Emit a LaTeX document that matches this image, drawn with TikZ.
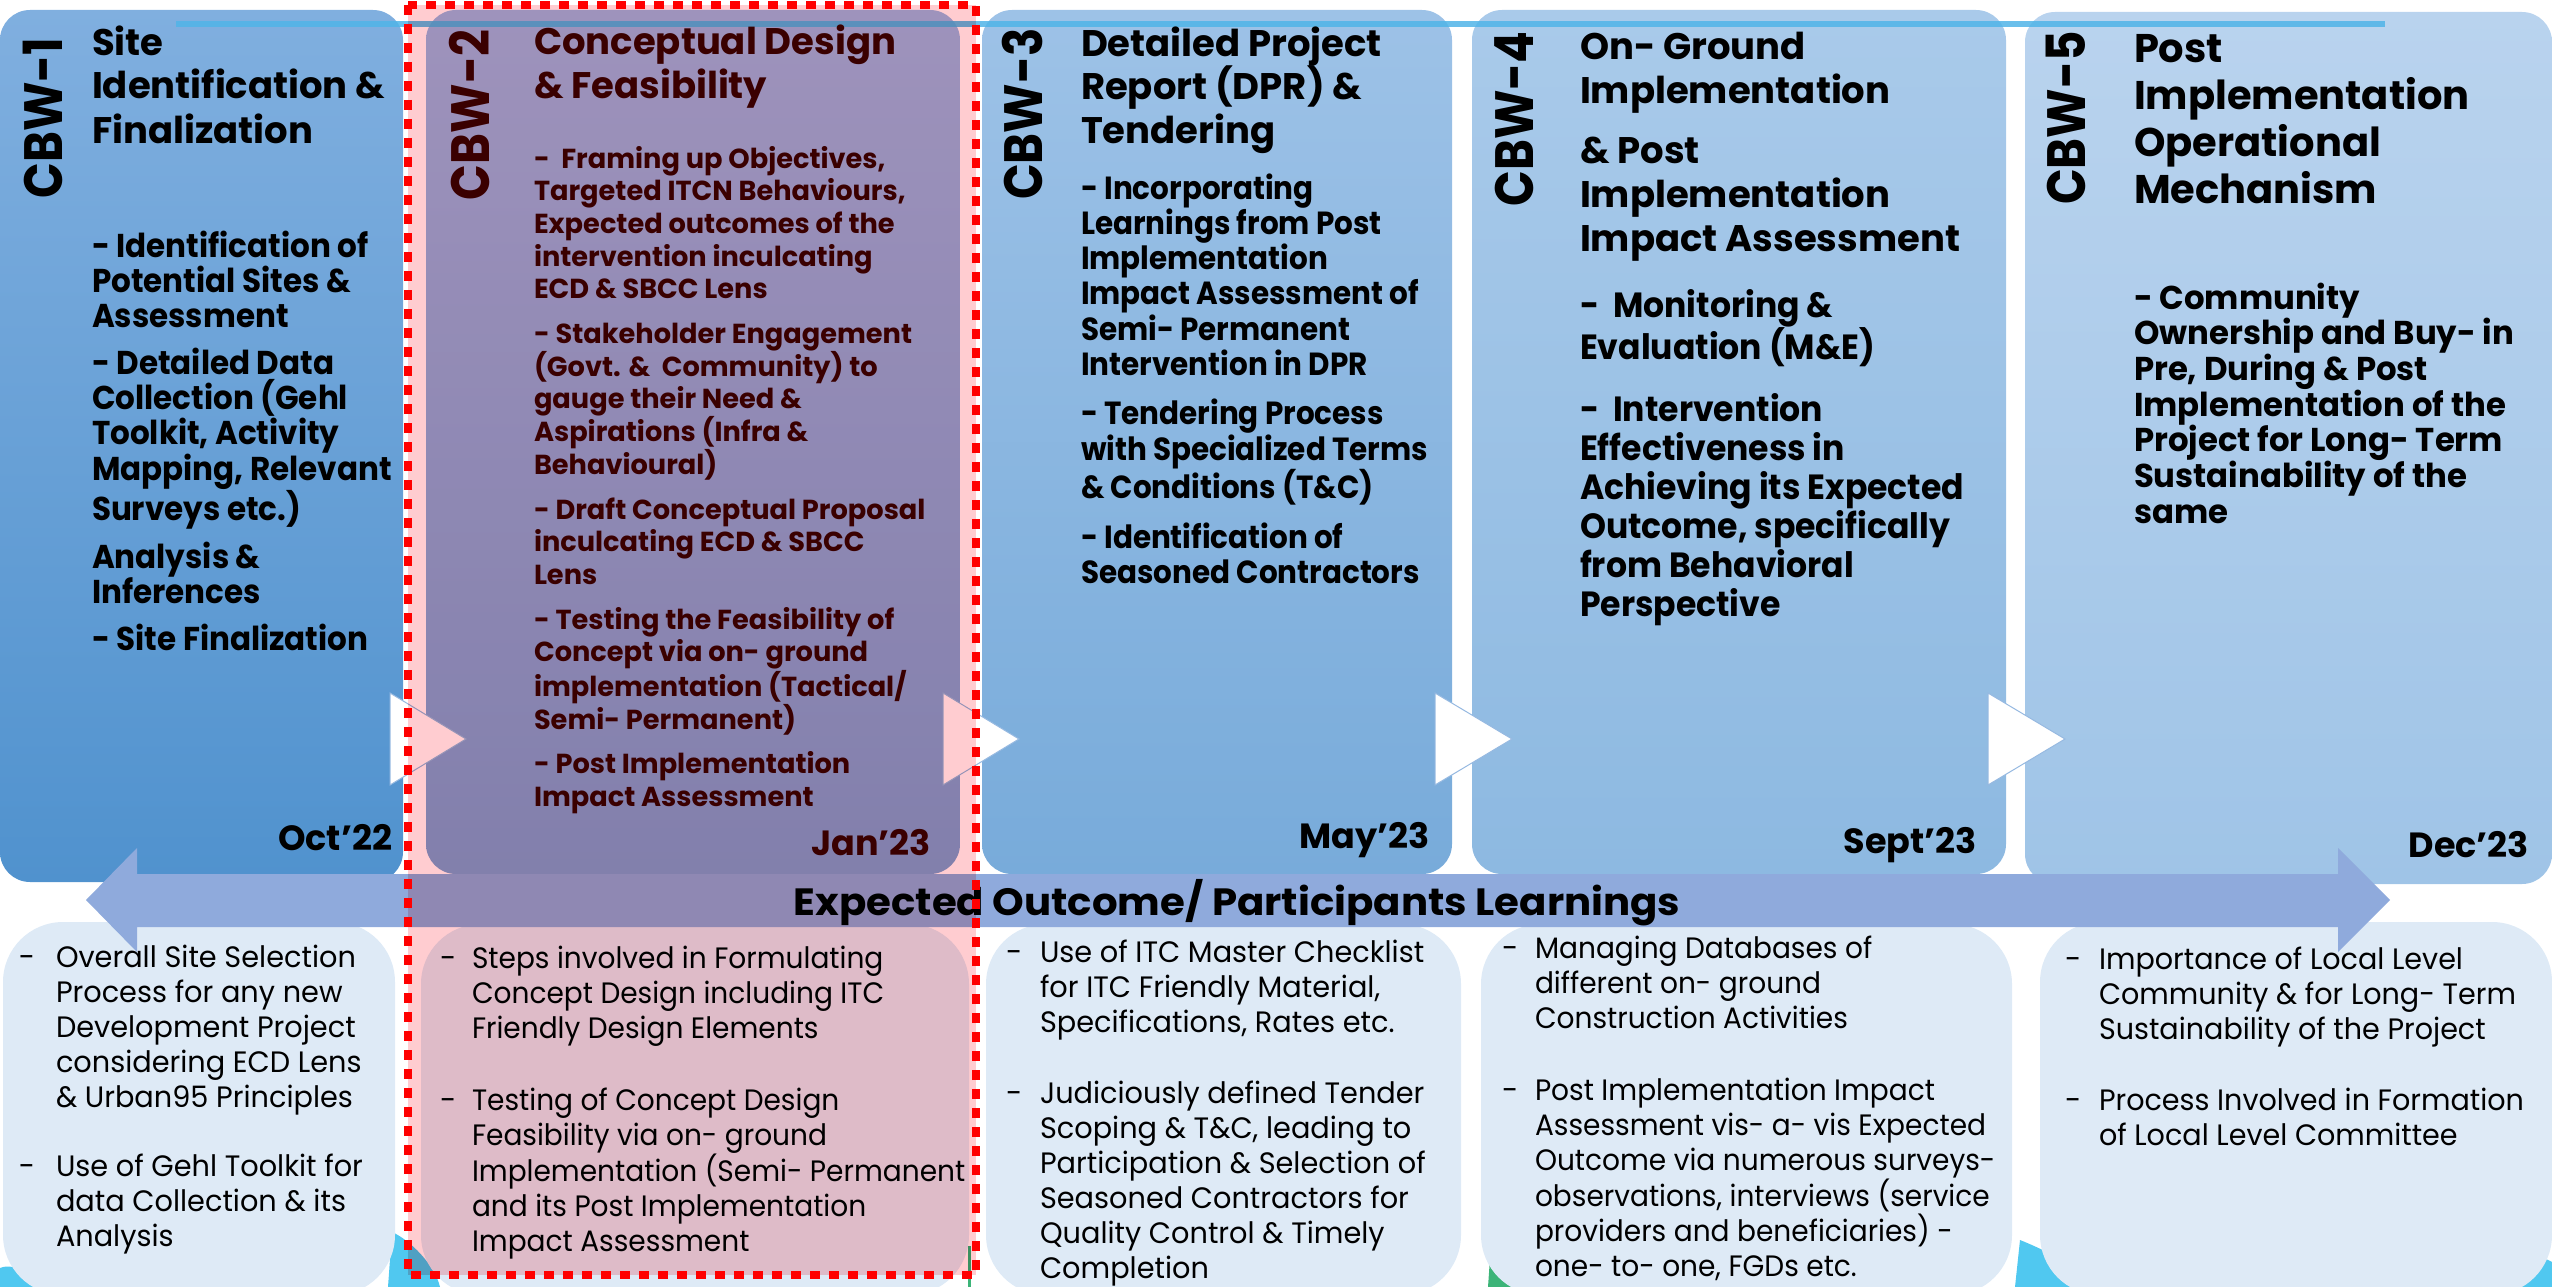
\documentclass[tikz,border=0pt]{standalone}
\usepackage{fontspec}
\setmainfont{Poppins}
\newcommand{\fsz}[2]{\fontsize{#1pt}{#2pt}\selectfont}
\newcommand{\fstrut}{\rule{0pt}{1em}}
\newcommand{\narrow}[1]{\addfontfeatures{FakeStretch=#1}}
\definecolor{bAt}{RGB}{128,175,223}
\definecolor{bAb}{RGB}{80,146,206}
\definecolor{bBt}{RGB}{158,184,231}
\definecolor{bBb}{RGB}{130,160,212}
\definecolor{bCt}{RGB}{157,194,231}
\definecolor{bCb}{RGB}{120,171,218}
\definecolor{bDt}{RGB}{169,202,234}
\definecolor{bDb}{RGB}{141,185,225}
\definecolor{bEt}{RGB}{185,211,238}
\definecolor{bEb}{RGB}{159,196,231}
\definecolor{lowbox}{RGB}{222,234,246}
\definecolor{arrowc}{RGB}{143,170,220}
\definecolor{topline}{RGB}{80,180,232}
\definecolor{pinkov}{RGB}{255,204,208}
\definecolor{maroon}{RGB}{58,0,0}
\definecolor{cyanblob}{RGB}{80,200,240}
\definecolor{greenblob}{RGB}{60,180,120}
\definecolor{triedge}{RGB}{150,185,225}
\tikzset{
  txt/.style={inner sep=0pt, outer sep=0pt, anchor=north west, align=left},
  ttl/.style={txt, font=\bfseries\fsz{37}{44}},
  cbw/.style={inner sep=0pt, outer sep=0pt, rotate=90, anchor=center, font=\bfseries\fsz{54}{60}\narrow{0.87}},
  datelbl/.style={inner sep=0pt, outer sep=0pt, anchor=base east, font=\bfseries\fsz{35}{40}},
  lowtxt/.style={txt, font=\fsz{29.5}{35}\narrow{#1}},
  dashlbl/.style={inner sep=0pt, outer sep=0pt, anchor=base west, font=\fsz{29.5}{35}},
  tri/.style={fill=white, draw=triedge, line width=1pt},
}
\begin{document}
\begin{tikzpicture}[x=1pt,y=-1pt]
\useasboundingbox (0,0) rectangle (2552,1287);
% background decoration blobs
\fill[cyanblob] (0,1287) -- (0,1268) .. controls (15,1262) and (30,1275) .. (34,1287) -- cycle;
\fill[cyanblob] (388,1287) -- (392,1232) .. controls (410,1240) and (435,1265) .. (440,1287) -- cycle;
\draw[greenblob, line width=3pt] (969,1246) -- (969,1287);
\fill[cyanblob] (1385,1287) -- (1392,1272) .. controls (1405,1276) and (1414,1282) .. (1418,1287) -- cycle;
\fill[greenblob] (1488,1287) -- (1490,1258) .. controls (1505,1265) and (1522,1276) .. (1530,1287) -- cycle;
\fill[cyanblob] (2015,1287) -- (2020,1240) .. controls (2045,1250) and (2085,1270) .. (2100,1287) -- cycle;
\fill[cyanblob] (2515,1287) -- (2535,1255) .. controls (2545,1258) and (2552,1262) .. (2552,1262) -- (2552,1287) -- cycle;
% top boxes
\shade[top color=bAt, bottom color=bAb, rounded corners=30pt] (0,10) rectangle (403,882);
\shade[top color=bBt, bottom color=bBb, rounded corners=30pt] (426,10) rectangle (960,874);
\shade[top color=bCt, bottom color=bCb, rounded corners=30pt] (982,10) rectangle (1452,874);
\shade[top color=bDt, bottom color=bDb, rounded corners=30pt] (1472,10) rectangle (2006,874);
\shade[top color=bEt, bottom color=bEb, rounded corners=30pt] (2025,12) rectangle (2552,884);
% top line
\fill[topline, opacity=0.85] (176,21) rectangle (2385,27);
% chevrons
\draw[tri] (390,693) -- (466,739) -- (390,785) -- cycle;
\draw[tri] (943,693) -- (1019,739) -- (943,785) -- cycle;
\draw[tri] (1435,693) -- (1512,739) -- (1435,785) -- cycle;
\draw[tri] (1988,693) -- (2065,739) -- (1988,785) -- cycle;
% lower boxes
\fill[lowbox, rounded corners=60pt] (3,922) rectangle (395,1295);
\fill[lowbox, rounded corners=60pt] (421,924) rectangle (969,1295);
\fill[lowbox, rounded corners=60pt] (986,924) rectangle (1461,1295);
\fill[lowbox, rounded corners=60pt] (1481,924) rectangle (2012,1295);
\fill[lowbox, rounded corners=60pt] (2040,922) rectangle (2552,1295);
% double arrow
\fill[arrowc] (86,900) -- (137,848) -- (137,874) -- (2338,874) -- (2338,848) -- (2390,900)
  -- (2338,952) -- (2338,927) -- (137,927) -- (137,952) -- cycle;
% pink overlay
\begin{scope}[blend mode=multiply]
\fill[pinkov] (408,5) rectangle (976,1275);
\end{scope}
% arrow text
\node[inner sep=0pt, anchor=base, font=\bfseries\fsz{38}{44}\narrow{1.06}] (arrowtxt) at (1237,915) {Expected Outcome/ Participants Learnings};
% CBW labels
\node[cbw] (cbw1) at (43,118) {CBW-1};
\node[cbw, text=maroon] (cbw2) at (469,115) {CBW-2};
\node[cbw] (cbw3) at (1022,114) {CBW-3};
\node[cbw] (cbw4) at (1514,119) {CBW-4};
\node[cbw] (cbw5) at (2066,118) {CBW-5};
% titles
\node[ttl] (t1) at (92,18) {\fstrut Site\\Identification \&\\Finalization};
\node[ttl, text=maroon] (t2) at (534,18) {\fstrut Conceptual Design\\\& Feasibility};
\node[ttl] (t3) at (1081,19) {\fstrut Detailed Project\\Report (DPR) \&\\Tendering};
\node[ttl] (t4) at (1580,22) {\fstrut On- Ground\\Implementation\\[16pt]\& Post\\Implementation\\Impact Assessment};
\node[txt, font=\bfseries\fsz{40}{47}] (t5) at (2134,22) {\fstrut Post\\Implementation\\Operational\\Mechanism};
% bullets top
\node[txt, font=\bfseries\fsz{33}{35}\narrow{0.94}] (p1) at (92,224) {\fstrut - Identification of\\Potential Sites \&\\Assessment\\[12pt]- Detailed Data\\Collection (Gehl\\Toolkit, Activity\\Mapping, Relevant\\Surveys etc.)\\[12pt]Analysis \&\\Inferences\\[12pt]- Site Finalization};
\node[txt, text=maroon, font=\bfseries\fsz{27.5}{32.7}\narrow{0.99}] (p2) at (534,140.5) {\fstrut -\ \ Framing up Objectives,\\Targeted ITCN Behaviours,\\Expected outcomes of the\\intervention inculcating\\ECD \& SBCC Lens\\[12pt]- Stakeholder Engagement\\(Govt. \&\ \ Community) to\\gauge their Need \&\\Aspirations (Infra \&\\Behavioural)\\[12pt]- Draft Conceptual Proposal\\inculcating ECD \& SBCC\\Lens\\[12pt]- Testing the Feasibility of\\Concept via on- ground\\implementation (Tactical/\\Semi- Permanent)\\[12pt]- Post Implementation\\Impact Assessment};
\node[txt, font=\bfseries\fsz{32}{35.3}\narrow{0.92}] (p3) at (1081,167) {\fstrut - Incorporating\\Learnings from Post\\Implementation\\Impact Assessment of\\Semi- Permanent\\Intervention in DPR\\[14pt]- Tendering Process\\with Specialized Terms\\\& Conditions (T\&C)\\[14pt]- Identification of\\Seasoned Contractors};
\node[txt, font=\bfseries\fsz{35}{39}\narrow{0.945}] (p4) at (1580,282) {\fstrut -\ \ Monitoring \&\\Evaluation (M\&E)\\[23pt]-\ \ Intervention\\Effectiveness in\\Achieving its Expected\\Outcome, specifically\\from Behavioral\\Perspective};
\node[txt, font=\bfseries\fsz{33}{35.7}\narrow{0.98}] (p5) at (2134,276) {\fstrut - Community\\Ownership and Buy- in\\Pre, During \& Post\\Implementation of the\\Project for Long- Term\\Sustainability of the\\same};
% dates
\node[datelbl] (d1) at (392,850) {Oct’22};
\node[datelbl, text=maroon] (d2) at (931,855) {Jan’23};
\node[datelbl] (d3) at (1430,848) {May’23};
\node[datelbl] (d4) at (1977,853) {Sept’23};
\node[datelbl] (d5) at (2529,857) {Dec’23};
% lower texts
\node[dashlbl] (la1) at (19,967) {-};
\node[dashlbl] (la2) at (19,1176) {-};
\node[lowtxt=0.975] (la) at (56,937.5) {\fstrut Overall Site Selection\\Process for any new\\Development Project\\considering ECD Lens\\\& Urban95 Principles\\[34pt]Use of Gehl Toolkit for\\data Collection \& its\\Analysis};
\node[dashlbl] (lb1) at (440,968) {-};
\node[dashlbl] (lb2) at (440,1110) {-};
\node[lowtxt=0.95] (lb) at (472,938.5) {\fstrut Steps involved in Formulating\\Concept Design including ITC\\Friendly Design Elements\\[37pt]Testing of Concept Design\\Feasibility via on- ground\\Implementation (Semi- Permanent\\and its Post Implementation\\Impact Assessment};
\node[dashlbl] (lc1) at (1006,962) {-};
\node[dashlbl] (lc2) at (1006,1103) {-};
\node[lowtxt=0.975] (lc) at (1040,932.5) {\fstrut Use of ITC Master Checklist\\for ITC Friendly Material,\\Specifications, Rates etc.\\[36pt]Judiciously defined Tender\\Scoping \& T\&C, leading to\\Participation \& Selection of\\Seasoned Contractors for\\Quality Control \& Timely\\Completion};
\node[dashlbl] (ld1) at (1502,958) {-};
\node[dashlbl] (ld2) at (1502,1100) {-};
\node[lowtxt=0.95] (ld) at (1535,928.5) {\fstrut Managing Databases of\\different on- ground\\Construction Activities\\[37pt]Post Implementation Impact\\Assessment vis- a- vis Expected\\Outcome via numerous surveys-\\observations, interviews (service\\providers and beneficiaries) -\\one- to- one, FGDs etc.};
\node[dashlbl] (le1) at (2065,969) {-};
\node[dashlbl] (le2) at (2065,1110) {-};
\node[lowtxt=0.97] (le) at (2099,939.5) {\fstrut Importance of Local Level\\Community \& for Long- Term\\Sustainability of the Project\\[36pt]Process Involved in Formation\\of Local Level Committee};
% red dashed frame
\draw[red, line width=8pt, dash pattern=on 10pt off 9pt] (408,5) rectangle (976,1275);
\end{tikzpicture}
\end{document}
